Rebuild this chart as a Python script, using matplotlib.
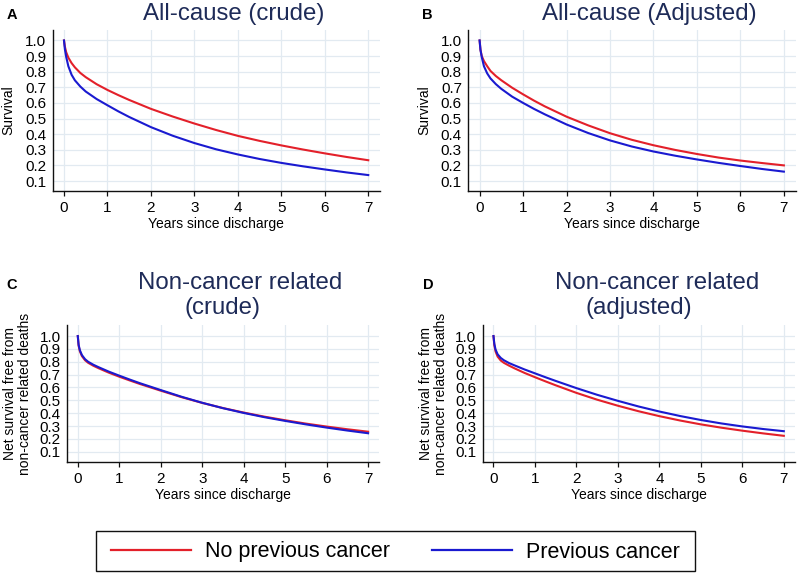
import matplotlib
matplotlib.use("Agg")
import matplotlib.pyplot as plt
from matplotlib.patches import Rectangle

plt.rcParams['font.family'] = ['Liberation Sans', 'DejaVu Sans']

# ---- data ----
years = [0, 0.02, 0.05, 0.1, 0.175, 0.25, 0.375, 0.5, 0.75, 1, 1.25, 1.5, 2,
         2.5, 3, 3.5, 4, 4.5, 5, 5.5, 6, 6.5, 7]

a_no_prev = [1.0, 0.961, 0.925, 0.89, 0.855, 0.828, 0.792, 0.765, 0.72, 0.683, 0.65,
             0.619, 0.562, 0.513, 0.468, 0.4265, 0.389, 0.357, 0.328, 0.3015, 0.277, 0.254, 0.233]
a_prev = [1.0, 0.945, 0.895, 0.835, 0.78, 0.745, 0.705, 0.673, 0.625, 0.585, 0.546,
          0.51, 0.445, 0.39, 0.343, 0.303, 0.27, 0.241, 0.216, 0.194, 0.174, 0.155, 0.138]

b_no_prev = [1.0, 0.94, 0.9, 0.868, 0.835, 0.805, 0.772, 0.745, 0.697, 0.655, 0.615,
             0.578, 0.512, 0.456, 0.406, 0.364, 0.329, 0.299, 0.273, 0.25, 0.231, 0.215, 0.20]
b_prev = [1.0, 0.94, 0.893, 0.835, 0.789, 0.757, 0.72, 0.69, 0.64, 0.60, 0.562,
          0.527, 0.462, 0.407, 0.36, 0.321, 0.289, 0.262, 0.238, 0.216, 0.196, 0.177, 0.16]

c_no_prev = [1.0, 0.925, 0.882, 0.844, 0.812, 0.792, 0.769, 0.75, 0.715, 0.684, 0.655,
             0.627, 0.575, 0.525, 0.48, 0.44, 0.405, 0.373, 0.345, 0.319, 0.296, 0.275, 0.256]
c_prev = [1.0, 0.932, 0.89, 0.852, 0.82, 0.80, 0.777, 0.758, 0.723, 0.692, 0.662,
          0.633, 0.58, 0.528, 0.481, 0.439, 0.402, 0.369, 0.34, 0.313, 0.288, 0.265, 0.244]

d_no_prev = [1.0, 0.93, 0.88, 0.84, 0.81, 0.792, 0.77, 0.75, 0.713, 0.68, 0.648,
             0.617, 0.558, 0.505, 0.458, 0.415, 0.377, 0.343, 0.313, 0.287, 0.264, 0.243, 0.224]
d_prev = [1.0, 0.94, 0.895, 0.858, 0.83, 0.812, 0.79, 0.773, 0.74, 0.71, 0.68,
          0.651, 0.595, 0.543, 0.496, 0.452, 0.413, 0.378, 0.347, 0.32, 0.297, 0.277, 0.26]

x_ticks = [0, 1, 2, 3, 4, 5, 6, 7]
y_ticks = [0.1, 0.2, 0.3, 0.4, 0.5, 0.6, 0.7, 0.8, 0.9, 1.0]
y_ticklabels = ["0.1", "0.2", "0.3", "0.4", "0.5", "0.6", "0.7", "0.8", "0.9", "1.0"]
series_names = ["No previous cancer", "Previous cancer"]
panel_letters = ["A", "B", "C", "D"]
titles = [["All-cause (crude)"], ["All-cause (Adjusted)"],
          ["Non-cancer related", "(crude)"], ["Non-cancer related", "(adjusted)"]]
ylabels = ["Survival", "Survival",
           "Net survival free from\nnon-cancer related deaths",
           "Net survival free from\nnon-cancer related deaths"]
xlabel = "Years since discharge"

# ---- styling ----
W, H = 800, 574
fig = plt.figure(figsize=(W / 100, H / 100), dpi=100)
RED = '#e3202a'
BLUE = '#1a1ad0'
TITLE_C = '#1e2b58'
GRID_C = '#e2eaf1'


def px_axes(left, top, right, bottom):
    return fig.add_axes([left / W, 1 - bottom / H, (right - left) / W, (bottom - top) / H])


def ft(x, y, s, **kw):
    fig.text(x / W, 1 - y / H, s, **kw)


# (left, top, right, bottom, ylim_low, ylim_high)
panels = [
    (52.7, 30, 380, 191, 0.036, 1.067),
    (468.3, 30, 795.6, 191, 0.036, 1.067),
    (67, 325, 379.3, 462.3, 0.018, 1.086),
    (482.7, 325, 795, 462.3, 0.018, 1.086),
]
data = [(a_no_prev, a_prev), (b_no_prev, b_prev), (c_no_prev, c_prev), (d_no_prev, d_prev)]

title_pos = [[(234, 14)], [(649.5, 14)], [(240, 283.3), (223, 308.3)], [(656.8, 283.3), (639.2, 308.3)]]
letter_pos = [(12, 15), (427, 15), (12, 285), (428, 285)]
ylabel_pos = [(8.7, 110.5), (424, 110.5), (17.5, 393.6), (433.5, 393.6)]

handles = None
for i, (l, t, r, b, ylo, yhi) in enumerate(panels):
    ax = px_axes(l, t, r, b)
    no_prev, prev = data[i]
    h1, = ax.plot(years, no_prev, color=RED, lw=1.5, zorder=3, solid_joinstyle='round')
    h2, = ax.plot(years, prev, color=BLUE, lw=1.5, zorder=4, solid_joinstyle='round')
    if handles is None:
        handles = [h1, h2]
    ax.set_xlim(-0.26, 7.27)
    ax.set_ylim(ylo, yhi)
    ax.set_xticks(x_ticks)
    ax.set_yticks(y_ticks)
    ax.set_yticklabels(y_ticklabels)
    ax.grid(True, color=GRID_C, lw=0.9, zorder=0)
    ax.set_axisbelow(True)
    for s in ['top', 'right']:
        ax.spines[s].set_visible(False)
    for s in ['left', 'bottom']:
        ax.spines[s].set_linewidth(1.0)
        ax.spines[s].set_color('#111111')
    ax.tick_params(axis='x', length=3.6, width=0.9, pad=3.6, labelsize=11, color='#111111')
    ax.tick_params(axis='y', length=0, pad=4.6, labelsize=11)
    xc = (l + r) / 2
    ft(xc, b + 33, xlabel, ha='center', va='center', fontsize=10)
    ft(ylabel_pos[i][0], ylabel_pos[i][1], ylabels[i], rotation=90, ha='center', va='center',
       fontsize=10, linespacing=1.15)
    for (tx, ty), line in zip(title_pos[i], titles[i]):
        ft(tx, ty, line, ha='center', va='center', fontsize=17.3, color=TITLE_C)
    ft(letter_pos[i][0], letter_pos[i][1], panel_letters[i], ha='center', va='center',
       fontsize=10.5, fontweight='bold')

leg = fig.legend(handles, series_names, loc='center', bbox_to_anchor=(395.5 / W, 1 - 552 / H),
                 ncol=2, fontsize=15.5, handlelength=3.7, handletextpad=0.65,
                 columnspacing=1.95, borderpad=0.35, frameon=False)
for ln in leg.get_lines():
    ln.set_linewidth(1.6)

# legend frame box
box_l, box_t, box_r, box_b = 96, 531, 695, 571
fig.patches.append(Rectangle((box_l / W, 1 - box_b / H), (box_r - box_l) / W, (box_b - box_t) / H,
                             transform=fig.transFigure, fill=False, edgecolor='#111111', lw=1.0))

fig.savefig('out.png', dpi=100)
